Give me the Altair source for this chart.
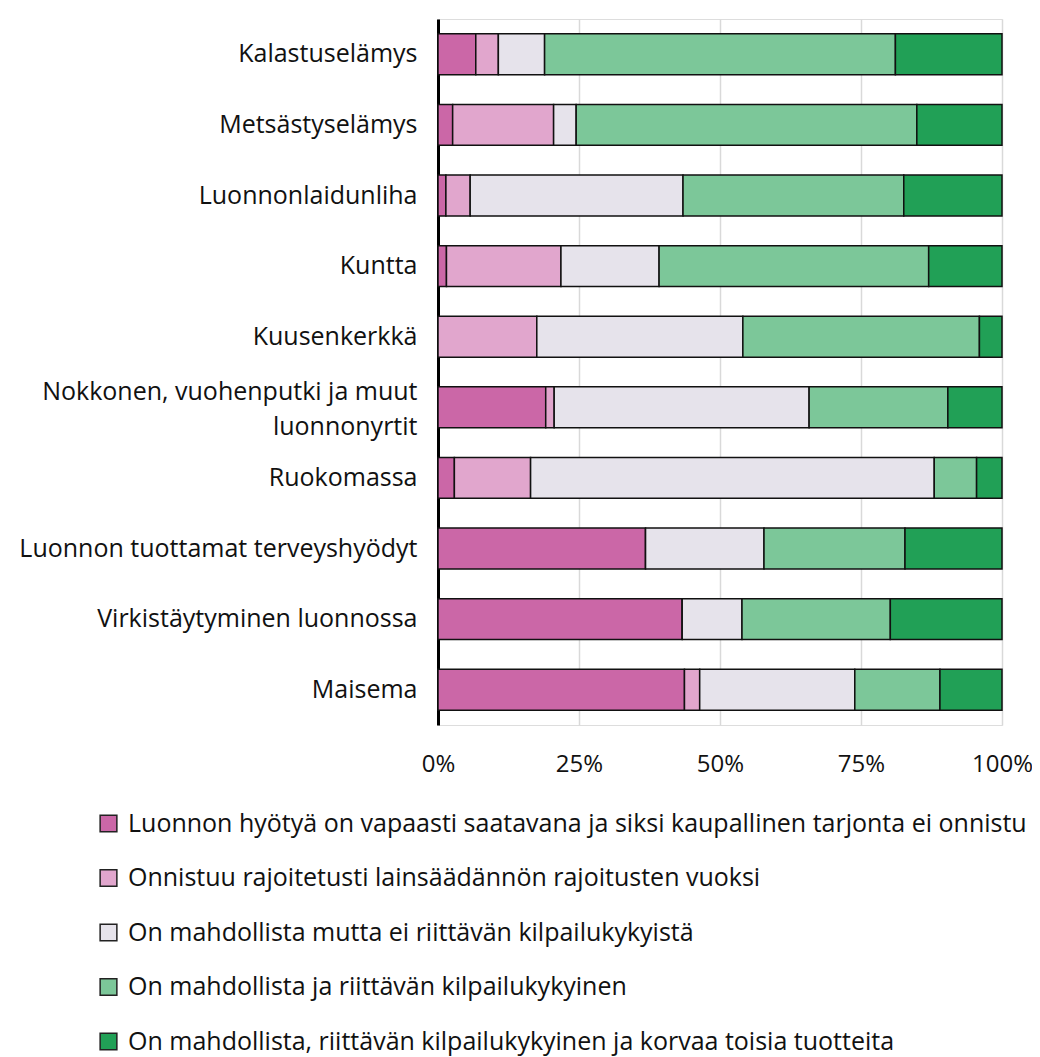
import altair as alt
import pandas as pd

categories = [
    "Kalastuselämys",
    "Metsästyselämys",
    "Luonnonlaidunliha",
    "Kuntta",
    "Kuusenkerkkä",
    "Nokkonen, vuohenputki ja muut luonnonyrtit",
    "Ruokomassa",
    "Luonnon tuottamat terveyshyödyt",
    "Virkistäytyminen luonnossa",
    "Maisema",
]

series = [
    "Luonnon hyötyä on vapaasti saatavana ja siksi kaupallinen tarjonta ei onnistu",
    "Onnistuu rajoitetusti lainsäädännön rajoitusten vuoksi",
    "On mahdollista mutta ei riittävän kilpailukykyistä",
    "On mahdollista ja riittävän kilpailukykyinen",
    "On mahdollista, riittävän kilpailukykyinen ja korvaa toisia tuotteita",
]

colors = ["#cb67a7", "#e1a6cd", "#e6e3eb", "#7cc799", "#21a056"]

vapaasti = [6.7, 2.6, 1.4, 1.5, 0.0, 19.1, 2.9, 36.8, 43.3, 43.7]
rajoitetusti = [4.0, 17.9, 4.3, 20.3, 17.5, 1.5, 13.5, 0.0, 0.0, 2.7]
ei_kilpailukykyista = [8.2, 4.0, 37.7, 17.4, 36.5, 45.2, 71.5, 21.0, 10.6, 27.5]
kilpailukykyinen = [62.2, 60.4, 39.1, 47.8, 41.9, 24.6, 7.5, 25.0, 26.3, 15.1]
korvaa = [18.9, 15.1, 17.4, 13.0, 4.0, 9.6, 4.5, 17.2, 19.8, 11.0]

all_values = [vapaasti, rajoitetusti, ei_kilpailukykyista, kilpailukykyinen, korvaa]

rows = []
for si, (s, vals) in enumerate(zip(series, all_values)):
    for c, v in zip(categories, vals):
        rows.append({"kohde": c, "luokka": s, "arvo": v, "jarjestys": si})
df = pd.DataFrame(rows)

font = "Open Sans"
wrapped = "Nokkonen, vuohenputki ja muut luonnonyrtit"

label_expr = (
    f"datum.label == '{wrapped}' ? "
    "['Nokkonen, vuohenputki ja muut', 'luonnonyrtit'] : datum.label"
)

chart = (
    alt.Chart(df)
    .mark_bar(stroke="#111111", strokeWidth=1.5)
    .encode(
        y=alt.Y(
            "kohde:N",
            sort=categories,
            title=None,
            scale=alt.Scale(paddingInner=0.42, paddingOuter=0.21),
            axis=alt.Axis(
                labelExpr=label_expr,
                labelFontSize=25,
                labelColor="#111111",
                labelFont=font,
                labelPadding=21,
                labelLineHeight=35,
                labelOffset={"condition": {"test": f"datum.value == '{wrapped}'", "value": -15}, "value": 0},
                ticks=False,
                domain=True,
                domainColor="#000000",
                domainWidth=3,
                labelLimit=600,
            ),
        ),
        x=alt.X(
            "arvo:Q",
            stack="normalize",
            title=None,
            scale=alt.Scale(domain=[0, 1]),
            axis=alt.Axis(
                values=[0, 0.25, 0.5, 0.75, 1],
                format=".0%",
                labelFontSize=24,
                labelColor="#111111",
                labelFont=font,
                labelPadding=27,
                labelFlush=False,
                ticks=False,
                domain=False,
                grid=True,
                gridColor="#d9d9d9",
                gridWidth=1.5,
            ),
        ),
        color=alt.Color(
            "luokka:N",
            sort=series,
            scale=alt.Scale(domain=series, range=colors),
            legend=alt.Legend(
                title=None,
                orient="none",
                legendX=-342,
                legendY=792,
                direction="vertical",
                symbolType="square",
                symbolSize=280,
                symbolStrokeColor="#222222",
                symbolStrokeWidth=1.5,
                symbolOpacity=1,
                labelFontSize=25,
                labelFont=font,
                labelColor="#111111",
                labelLimit=1000,
                labelOffset=7,
                rowPadding=28.5,
            ),
        ),
        order=alt.Order("jarjestys:Q", sort="ascending"),
    )
    .properties(
        width=564,
        height=706,
        autosize=alt.AutoSizeParams(type="none"),
        padding={"left": 430, "top": 11, "right": 30, "bottom": 332},
    )
    .configure_view(stroke=None)
    .configure(font=font)
)

chart.save("out.html", embed_options={"renderer": "svg", "actions": False})
